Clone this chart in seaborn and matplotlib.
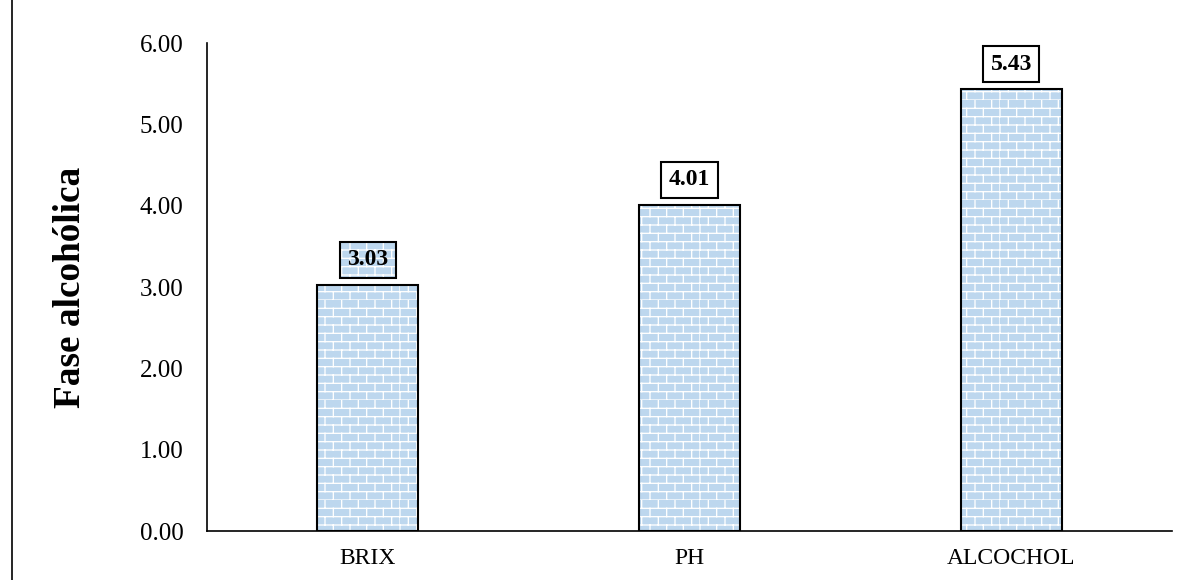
import numpy as np
import pandas as pd
import matplotlib
matplotlib.use("Agg")
import matplotlib.pyplot as plt
from matplotlib import hatch as mhatch
from matplotlib.path import Path
from matplotlib.lines import Line2D
import seaborn as sns

# ---------------- data ----------------
categories = ["BRIX", "PH", "ALCOCHOL"]
values = [3.03, 4.01, 5.43]
value_labels = ["3.03", "4.01", "5.43"]
ylabel_text = "Fase alcohólica"
y_ticks = [0, 1, 2, 3, 4, 5, 6]


# ---------------- brick hatch ----------------
class BrickHatch(mhatch.HatchPatternBase):
    rows = 12
    cols = 6

    def __init__(self, hatch, density):
        self.on = hatch.count('+') > 0
        if self.on:
            self.num_vertices = 2 * self.rows + 2 * self.rows * (self.cols + 1)
        else:
            self.num_vertices = 0

    def set_vertices_and_codes(self, vertices, codes):
        verts = []
        for k in range(self.rows):
            y0 = k / self.rows
            y1 = (k + 1) / self.rows
            verts.append((0.0, y0))
            verts.append((1.0, y0))
            shift = 0.5 * (k % 2)
            for j in range(self.cols + 1):
                x = min((j + shift) / self.cols, 1.0)
                verts.append((x, y0))
                verts.append((x, y1))
        vertices[:] = np.array(verts)
        codes[0::2] = Path.MOVETO
        codes[1::2] = Path.LINETO


mhatch._hatch_types = [BrickHatch]

# ---------------- style ----------------
sns.set_style("white")
plt.rcParams["font.family"] = ["Liberation Serif", "DejaVu Serif"]
plt.rcParams["hatch.linewidth"] = 0.95
for key in ["text.color", "axes.labelcolor", "xtick.color", "ytick.color",
            "axes.edgecolor"]:
    plt.rcParams[key] = "black"

brick_color = "#BDD7EE"

fig = plt.figure(figsize=(11.87, 5.80), dpi=100)
ax = fig.add_axes([207 / 1187, 1 - 531 / 580, (1172 - 207) / 1187, (531 - 43) / 580])

df = pd.DataFrame({"cat": categories, "val": values})

# brick-filled bars
sns.barplot(data=df, x="cat", y="val", color=brick_color, width=0.314,
            edgecolor="white", linewidth=0, hatch="+", ax=ax, saturation=1)
# black outlines
sns.barplot(data=df, x="cat", y="val", fill=False, color="black", width=0.314,
            linewidth=1.5, ax=ax)

ax.set_ylim(0, 6)
ax.set_xlim(-0.5, len(categories) - 0.5)
ax.set_yticks(y_ticks)
ax.set_yticklabels([f"{t:.2f}" for t in y_ticks])
ax.tick_params(axis="y", length=0, pad=17, labelsize=18, labelcolor="black")
ax.tick_params(axis="x", length=0, pad=12, labelsize=17, labelcolor="black")
ax.set_xlabel("")
ax.set_ylabel("")
for s in ["top", "right"]:
    ax.spines[s].set_visible(False)
for s in ["left", "bottom"]:
    ax.spines[s].set_color("black")
    ax.spines[s].set_linewidth(1.2)

# value label boxes
for i, (v, lab) in enumerate(zip(values, value_labels)):
    kw = dict(xy=(i, v), xytext=(0, 18), textcoords="offset points",
              ha="center", va="center", fontsize=17, fontweight="bold")
    if i == 0:
        ax.annotate(lab, color="none",
                    bbox=dict(boxstyle="square,pad=0.32", fc=brick_color,
                              ec="white", lw=0, hatch="+"), **kw)
        ax.annotate(lab, color="black",
                    bbox=dict(boxstyle="square,pad=0.32", fc="none",
                              ec="black", lw=1.5), **kw)
    else:
        ax.annotate(lab, color="black",
                    bbox=dict(boxstyle="square,pad=0.32", fc="white",
                              ec="black", lw=1.5), **kw)

# y label
fig.text(70 / 1187, 1 - 287.5 / 580, ylabel_text, rotation=90, ha="center",
         va="center", fontsize=26.8, fontweight="bold", color="black")

# left frame line
fig.add_artist(Line2D([11.5 / 1187, 11.5 / 1187], [0, 1], transform=fig.transFigure,
                      color="black", lw=1.2))

fig.savefig("out.png", dpi=100)
